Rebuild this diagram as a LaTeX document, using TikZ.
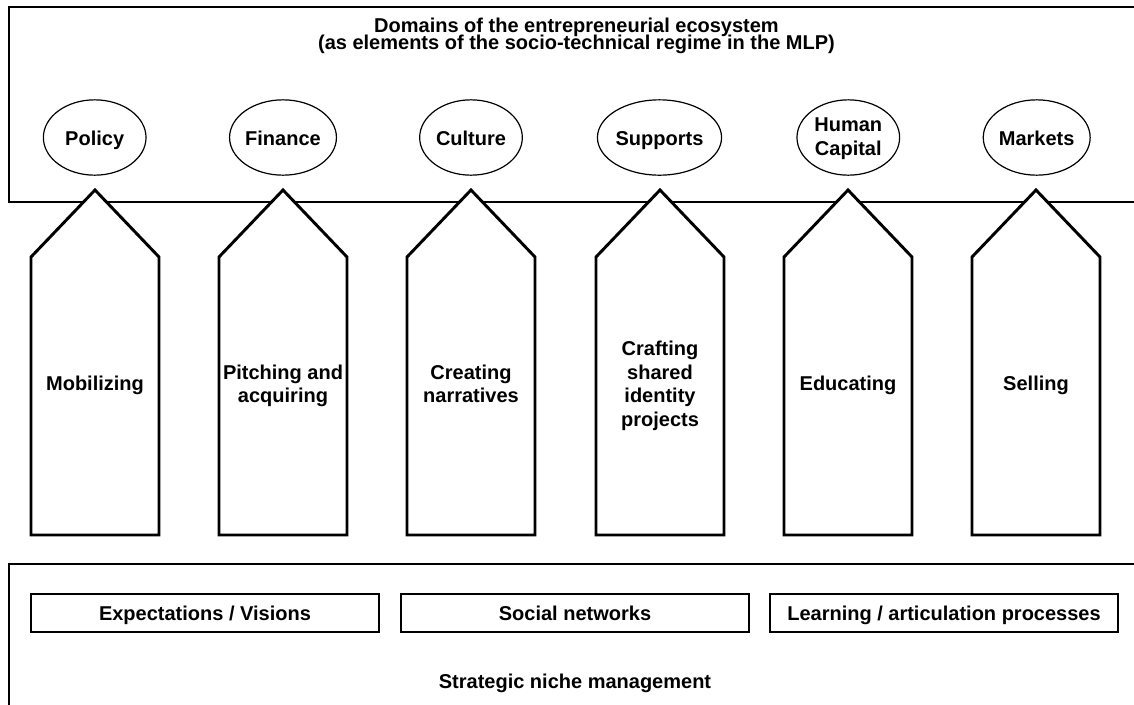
\documentclass[tikz,border=0pt]{standalone}
\usepackage{fontspec}
\setmainfont{Liberation Sans}
\usetikzlibrary{shapes}
\setlength{\lineskiplimit}{-20pt}

\begin{document}
\begin{tikzpicture}[x=0.75pt,y=-0.75pt]
	\tikzstyle{every node}+=[inner sep=0pt, align=center, font=\bfseries\fontsize{15}{17.55}\selectfont]
	\tikzstyle{domainoval}=[draw=black, line width=0.9pt, ellipse, minimum width=77pt, minimum height=56.5pt, text height=12.2pt, text depth=0pt]
	\tikzstyle{process}=[draw=black, line width=2.2pt, fill=white]
	\tikzstyle{nichebox}=[draw=black, line width=1.5pt, minimum width=261pt, minimum height=28.5pt, text height=11.25pt, text depth=0pt]
	\clip (0,0) rectangle (1134,704);
	% regime box (open to the right)
	\draw [black, line width=1.5pt] (1140,6.7) -- (9,6.7) -- (9,202) -- (1140,202);
	\node (title) at (576.5,49.5) [anchor=base, font=\bfseries\fontsize{15}{13}\selectfont] {Domains of the entrepreneurial ecosystem\\(as elements of the socio-technical regime in the MLP)};
	\node [domainoval] (policy) at (94.7,137.5) {Policy};
	\node [domainoval] (finance) at (283,137.5) {Finance};
	\node [domainoval] (culture) at (471,137.5) {Culture};
	\node [domainoval] (supports) at (659.5,137.5) {Supports};
	\node [domainoval, text height=26.25pt, text depth=0pt] (humancap) at (848.3,137.5) {Human\\Capital};
	\node [domainoval] (markets) at (1036.7,137.5) {Markets};
	% processes
	\draw [process] (31,535) -- (31,257) -- (95,190) -- (159,257) -- (159,535) -- cycle;
	\node [anchor=base] (mobilizing) at (95,390) {Mobilizing};
	\draw [process] (219,535) -- (219,257) -- (283,190) -- (347,257) -- (347,535) -- cycle;
	\node [anchor=base] (pitching) at (283,402.7) {Pitching and\\acquiring};
	\draw [process] (407,535) -- (407,257) -- (471,190) -- (535,257) -- (535,535) -- cycle;
	\node [anchor=base] (narratives) at (471,402.7) {Creating\\narratives};
	\draw [process] (596,535) -- (596,257) -- (660,190) -- (724,257) -- (724,535) -- cycle;
	\node [anchor=base] (crafting) at (660,426) {Crafting\\shared\\identity\\projects};
	\draw [process] (784,535) -- (784,257) -- (848,190) -- (912,257) -- (912,535) -- cycle;
	\node [anchor=base] (educating) at (848,390) {Educating};
	\draw [process] (972,535) -- (972,257) -- (1036,190) -- (1100,257) -- (1100,535) -- cycle;
	\node [anchor=base] (selling) at (1036,390) {Selling};
	% niche box (open to the right and below)
	\draw [black, line width=1.5pt] (1140,564.3) -- (9,564.3) -- (9,710);
	\node [nichebox] (expect) at (205,612.5) {Expectations / Visions};
	\node [nichebox] (social) at (575,612.5) {Social networks};
	\node [nichebox] (learning) at (944,612.5) {Learning / articulation processes};
	\node [anchor=base] (snm) at (575,688.3) {Strategic niche management};
\end{tikzpicture}
\end{document}
